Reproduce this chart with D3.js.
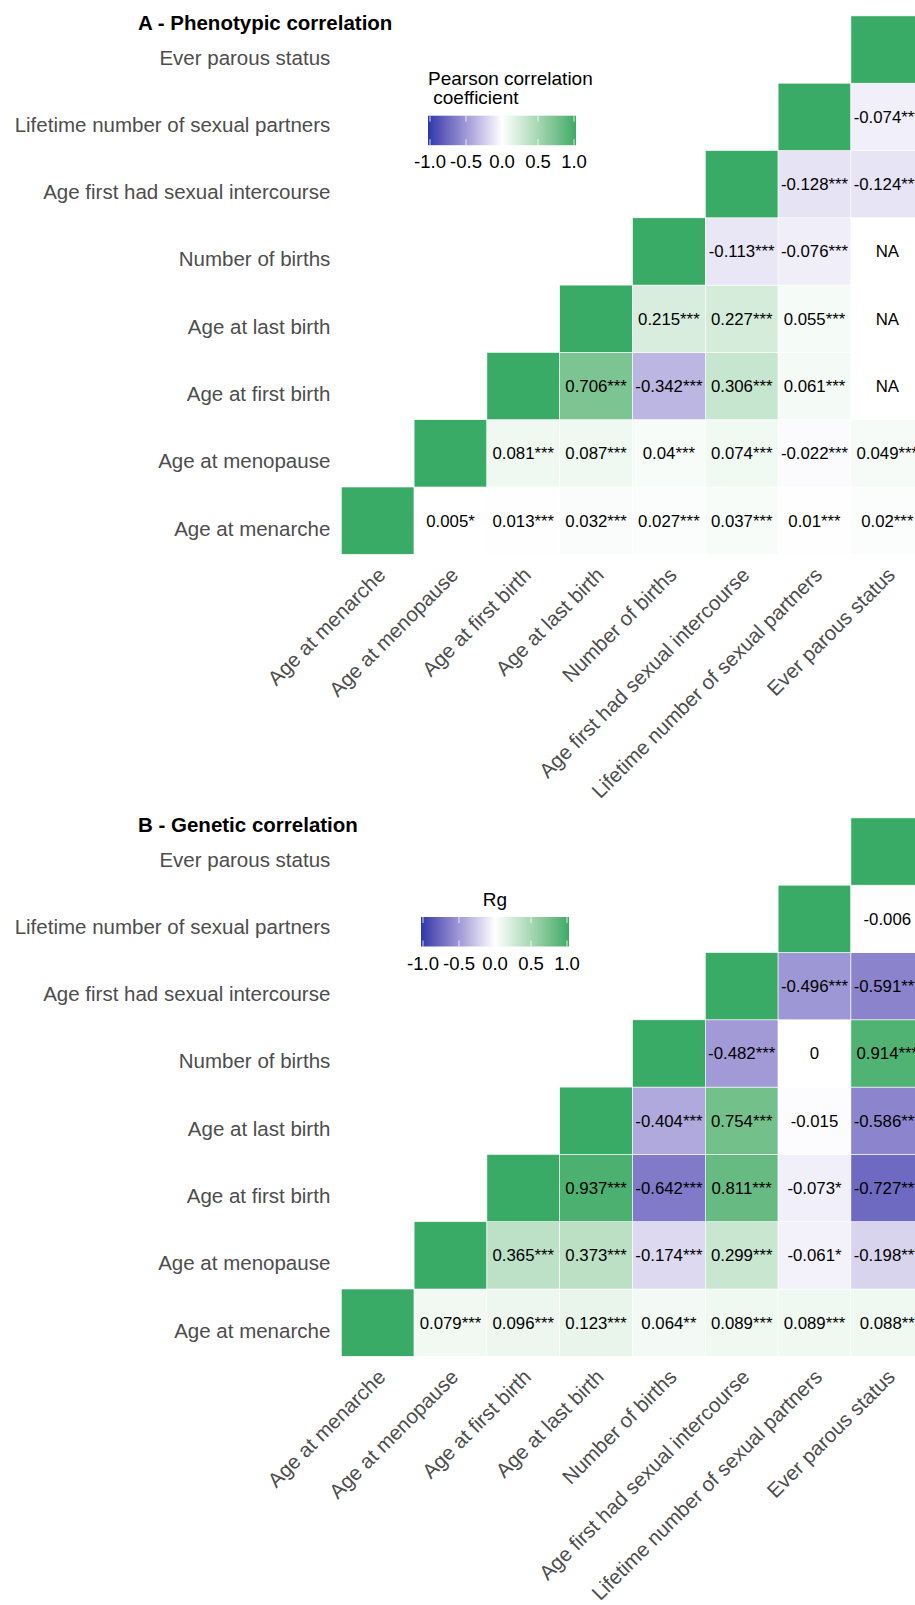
<!DOCTYPE html>
<html>
<head>
<meta charset="utf-8">
<script src="https://cdn.jsdelivr.net/npm/d3@7"></script>
<style>
  body { margin: 0; background: #fff; }
  text { font-family: "Liberation Sans", Arial, sans-serif; }
</style>
</head>
<body>
<svg id="chart" width="915" height="1605"></svg>
<script>
const traits = [
  "Age at menarche",
  "Age at menopause",
  "Age at first birth",
  "Age at last birth",
  "Number of births",
  "Age first had sexual intercourse",
  "Lifetime number of sexual partners",
  "Ever parous status"
];

// rows of the upper triangle, each row starts right after the diagonal
// values as [value, stars]; null = NA
const phenoRows = [
  [[0.005, "*"], [0.013, "***"], [0.032, "***"], [0.027, "***"], [0.037, "***"], [0.01, "***"], [0.02, "***"]],
  [[0.081, "***"], [0.087, "***"], [0.04, "***"], [0.074, "***"], [-0.022, "***"], [0.049, "***"]],
  [[0.706, "***"], [-0.342, "***"], [0.306, "***"], [0.061, "***"], null],
  [[0.215, "***"], [0.227, "***"], [0.055, "***"], null],
  [[-0.113, "***"], [-0.076, "***"], null],
  [[-0.128, "***"], [-0.124, "***"]],
  [[-0.074, "***"]],
  []
];

const geneticRows = [
  [[0.079, "***"], [0.096, "***"], [0.123, "***"], [0.064, "**"], [0.089, "***"], [0.089, "***"], [0.088, "**"]],
  [[0.365, "***"], [0.373, "***"], [-0.174, "***"], [0.299, "***"], [-0.061, "*"], [-0.198, "***"]],
  [[0.937, "***"], [-0.642, "***"], [0.811, "***"], [-0.073, "*"], [-0.727, "***"]],
  [[-0.404, "***"], [0.754, "***"], [-0.015, ""], [-0.586, "***"]],
  [[-0.482, "***"], [0, ""], [0.914, "***"]],
  [[-0.496, "***"], [-0.591, "***"]],
  [[-0.006, ""]],
  []
];

const legendTicks = [-1, -0.5, 0, 0.5, 1];

const svg = d3.select("#chart");
const lowCol = "#2a39a8", highCol = "#3aab67";
const color = d3.scaleLinear()
  .domain([-1, 0, 1])
  .range([lowCol, "#ffffff", highCol])
  .interpolate(d3.interpolateLab);

// gradient for legends
const defs = svg.append("defs");
const grad = defs.append("linearGradient").attr("id", "grad");
d3.range(0, 1.0001, 0.05).forEach(t => {
  grad.append("stop").attr("offset", t).attr("stop-color", color(-1 + 2 * t));
});

function buildCells(rows) {
  const cells = [];
  rows.forEach((row, i) => {
    cells.push({ x: traits[i], y: traits[i], v: 1, diag: true });
    row.forEach((d, k) => {
      const j = i + 1 + k;
      if (d === null) cells.push({ x: traits[j], y: traits[i], v: null, label: "NA" });
      else cells.push({ x: traits[j], y: traits[i], v: d[0], label: d[0] + d[1] });
    });
  });
  return cells;
}

function drawPanel(opt) {
  const g = svg.append("g");
  const x = d3.scaleBand().domain(traits).range([341.3, 341.3 + 8 * 72.8]);
  const y = d3.scaleBand().domain(traits).range([opt.bottom, opt.bottom - 8 * 67.3]);
  const top = opt.bottom - 8 * 67.3;

  g.append("text")
    .attr("x", 138).attr("y", top + 14)
    .attr("font-size", 20.5).attr("font-weight", "bold")
    .text(opt.title);

  const cells = buildCells(opt.rows);
  g.selectAll("rect.cell")
    .data(cells)
    .enter()
    .append("rect")
    .attr("class", "cell")
    .attr("x", d => x(d.x))
    .attr("y", d => y(d.y))
    .attr("width", x.bandwidth())
    .attr("height", y.bandwidth())
    .attr("fill", d => d.v === null ? "#ffffff" : color(d.v))
    .attr("stroke", "#ffffff")
    .attr("stroke-width", 0.6);

  g.selectAll("text.val")
    .data(cells.filter(d => !d.diag))
    .enter()
    .append("text")
    .attr("class", "val")
    .attr("x", d => x(d.x) + x.bandwidth() / 2)
    .attr("y", d => y(d.y) + y.bandwidth() / 2)
    .attr("dy", "0.36em")
    .attr("text-anchor", "middle")
    .attr("font-size", 16.8)
    .attr("fill", "#000")
    .text(d => d.label);

  // axes
  const yAxis = g.append("g")
    .attr("transform", `translate(${x.range()[0]},0)`)
    .call(d3.axisLeft(y).tickSize(0).tickPadding(11));
  yAxis.select(".domain").remove();
  yAxis.selectAll("text")
    .attr("font-size", 20.5)
    .attr("fill", "#4d4d4d")
    .attr("dy", 15)
    .style("font-family", "Liberation Sans, Arial, sans-serif");

  const xAxis = g.append("g")
    .attr("transform", `translate(0,${opt.bottom})`)
    .call(d3.axisBottom(x).tickSize(0).tickPadding(0));
  xAxis.select(".domain").remove();
  xAxis.selectAll("text")
    .attr("font-size", 20.5)
    .attr("fill", "#4d4d4d")
    .style("font-family", "Liberation Sans, Arial, sans-serif")
    .attr("text-anchor", "end")
    .attr("dy", 0)
    .attr("y", 0)
    .attr("transform", "translate(9,22) rotate(-45)");

  // legend
  const lg = g.append("g");
  const lx = d3.scaleLinear().domain([-1, 1]).range([opt.legX + 2, opt.legX + 146]);
  opt.legTitle.forEach((t, k) => {
    lg.append("text")
      .attr("x", opt.legTitleX)
      .attr("y", opt.legTitleY + k * 18.5)
      .attr("font-size", 19)
      .attr("text-anchor", opt.legTitleAnchor)
      .style("white-space", "pre")
      .text(t);
  });
  lg.append("rect")
    .attr("x", opt.legX).attr("y", opt.legY)
    .attr("width", 148).attr("height", 29.5)
    .attr("fill", "url(#grad)");
  legendTicks.forEach(t => {
    [opt.legY, opt.legY + 29.5 - 6].forEach(ty => {
      lg.append("line")
        .attr("x1", lx(t)).attr("x2", lx(t))
        .attr("y1", ty).attr("y2", ty + 6)
        .attr("stroke", "#ffffff").attr("stroke-width", 0.8);
    });
    lg.append("text")
      .attr("x", lx(t)).attr("y", opt.legY + 29.5 + 23)
      .attr("text-anchor", "middle")
      .attr("font-size", 18.5)
      .text(d3.format(".1f")(t).replace("−", "-"));
  });
}

drawPanel({
  title: "A - Phenotypic correlation",
  rows: phenoRows,
  bottom: 554.3,
  legX: 428, legY: 115.7,
  legTitle: ["Pearson correlation", " coefficient"],
  legTitleX: 428, legTitleY: 85, legTitleAnchor: "start"
});

drawPanel({
  title: "B - Genetic correlation",
  rows: geneticRows,
  bottom: 1356.3,
  legX: 421, legY: 917,
  legTitle: ["Rg"],
  legTitleX: 495, legTitleY: 906, legTitleAnchor: "middle"
});
</script>
</body>
</html>
